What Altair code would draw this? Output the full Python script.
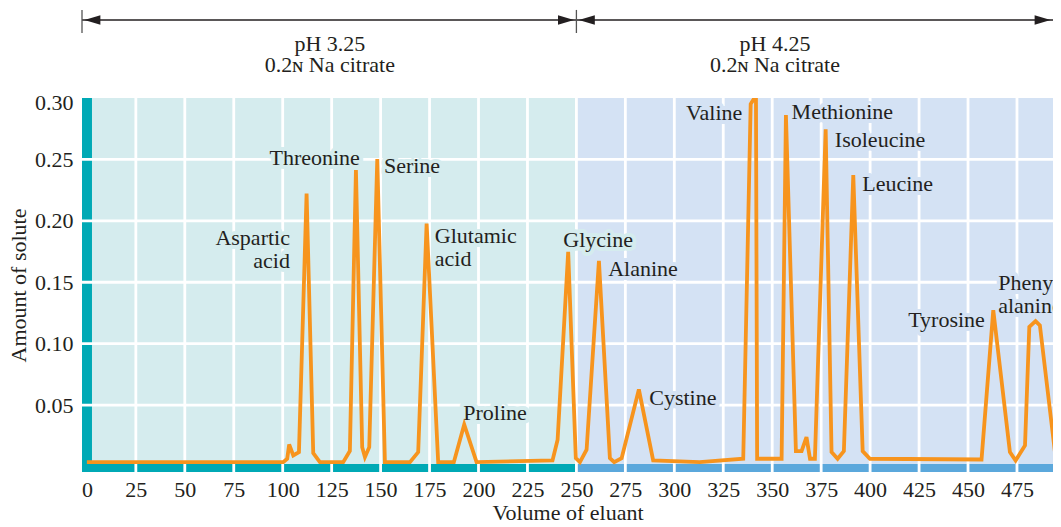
import altair as alt
import pandas as pd

# ---------------- data ----------------
volume = [0, 100.3, 102.3, 103.3, 105.4, 108.3, 112.2, 115.6, 119.0, 130.9,
          134.3, 137.4, 140.6, 142.0, 144.2, 148.3, 152.2, 165.0, 169.2, 173.5,
          179.4, 187.4, 192.7, 199.0, 237.8, 240.4, 245.8, 249.7, 251.8, 255.2,
          261.5, 267.1, 269.3, 273.1, 281.9, 289.2, 313.0, 335.2, 339.0, 341.7,
          342.3, 354.8, 357.0, 362.1, 365.0, 367.5, 369.3, 371.8, 377.3, 380.3,
          383.4, 386.6, 391.4, 396.2, 399.9, 456.9, 462.9, 471.4, 474.3, 479.1,
          481.3, 484.5, 486.7, 494.7, 497.5]
amount = [0.0035, 0.0035, 0.0063, 0.0179, 0.0090, 0.0117, 0.2223, 0.0108, 0.0035, 0.0035,
          0.0127, 0.2413, 0.0157, 0.0076, 0.0157, 0.2503, 0.0035, 0.0035, 0.0117, 0.1978,
          0.0035, 0.0035, 0.0342, 0.0035, 0.0049, 0.0218, 0.1747, 0.0068, 0.0035, 0.0136,
          0.1674, 0.0068, 0.0035, 0.0068, 0.0628, 0.0049, 0.0035, 0.0063, 0.2951, 0.3020,
          0.0063, 0.0063, 0.2861, 0.0125, 0.0125, 0.0239, 0.0063, 0.0063, 0.2745, 0.0117,
          0.0063, 0.0125, 0.2372, 0.0125, 0.0063, 0.0057, 0.1272, 0.0117, 0.0049, 0.0171,
          0.1136, 0.1184, 0.1149, 0.0076, 0.0063]

label_text = ["Aspartic\nacid", "Threonine", "Serine", "Glutamic\nacid", "Proline",
              "Glycine", "Alanine", "Cystine", "Valine", "Methionine", "Isoleucine",
              "Leucine", "Tyrosine", "Phenyl-\nalanine"]
label_x = [103.7, 139.4, 151.7, 177.7, 192.2, 243.3, 266.2, 287.2,
           334.7, 359.9, 382.0, 396.0, 458.6, 465.4]
label_y = [0.1859, 0.2511, 0.2445, 0.1875, 0.0432, 0.1842, 0.1606,
           0.0557, 0.2880, 0.2883, 0.2658, 0.2296, 0.1196, 0.1492]
label_side = ["right", "right", "left", "left", "left", "left", "left",
              "left", "right", "left", "left", "left", "right", "left"]

phase_names = ["pH 3.25", "pH 4.25"]
phase_buffers = ["0.2ɴ Na citrate", "0.2ɴ Na citrate"]
phase_start = [-2.5, 250.0]
phase_end = [250.0, 493.4]
phase_label_x = [124.1, 351.4]

x_ticks = list(range(0, 500, 25))
y_ticks = [0.05, 0.10, 0.15, 0.20, 0.25, 0.30]

# ---------------- styling ----------------
FONT = "Liberation Serif"
FS = 22
INK = "#231f20"
BG = ["#d5ecee", "#d4e2f4"]
BAR = ["#00a9b5", "#5ba8dc"]
ORANGE = "#f7941d"

X_MIN, X_MAX = -2.5, 493.4
Y_MIN, Y_MAX = -0.0045, 0.30
xs = alt.Scale(domain=[X_MIN, X_MAX], nice=False, zero=False)
ys = alt.Scale(domain=[Y_MIN, Y_MAX], nice=False, zero=False)

ax_x = alt.Axis(values=x_ticks, title="Volume of eluant", grid=False, domain=False,
                ticks=False, labelFont=FONT, labelFontSize=FS, labelColor=INK,
                labelPadding=7, labelFlush=False, labelOverlap=False,
                titleFont=FONT, titleFontSize=FS, titleFontWeight="normal",
                titleColor=INK, titlePadding=2)
ax_y = alt.Axis(values=y_ticks, format=".2f", title="Amount of solute", grid=False,
                domain=False, ticks=False, labelFont=FONT, labelFontSize=FS,
                labelColor=INK, labelPadding=9, labelFlush=False, labelOverlap=False,
                labelOffset={"condition": {"test": "datum.value >= 0.29", "value": 4},
                             "value": 0},
                titleFont=FONT, titleFontSize=FS, titleFontWeight="normal",
                titleColor=INK, titlePadding=4)

trace = pd.DataFrame({"volume": volume, "amount": amount})
labels = pd.DataFrame({"text": label_text, "x": label_x, "y": label_y, "side": label_side})
phases = pd.DataFrame({"phase": phase_names, "buffer": phase_buffers,
                       "start": phase_start, "end": phase_end, "lx": phase_label_x,
                       "bg": BG, "bar": BAR})
phases["ylo"] = Y_MIN
phases["yhi"] = Y_MAX
phases["bartop"] = 0.002
phases["lbend"] = 2.6
phases["arrow_y"] = 0.3635
phases["tick_lo"] = 0.3529
phases["tick_hi"] = 0.3717
phases["tfirst"] = 0.3440


def X(f):
    return alt.X(f, scale=xs, axis=ax_x)


def Y(f):
    return alt.Y(f, scale=ys, axis=ax_y)


# background panels
bg = alt.Chart(phases).mark_rect().encode(
    x=X("start:Q"), x2="end:Q", y=Y("ylo:Q"), y2="yhi:Q",
    color=alt.Color("bg:N", scale=None),
)
bottom_bar = alt.Chart(phases).mark_rect().encode(
    x=X("start:Q"), x2="end:Q", y=Y("ylo:Q"), y2="bartop:Q",
    color=alt.Color("bar:N", scale=None),
)
left_bar = alt.Chart(phases).transform_filter("datum.start < 0").mark_rect(color=BAR[0]).encode(
    x=X("start:Q"), x2="lbend:Q", y=Y("ylo:Q"), y2="yhi:Q",
)

vgrid = alt.Chart(pd.DataFrame({"g": x_ticks[1:]})).mark_rule(color="white", strokeWidth=2.8).encode(
    x=X("g:Q"))
hgrid = alt.Chart(pd.DataFrame({"g": y_ticks[:-1]})).mark_rule(color="white", strokeWidth=2.8).encode(
    y=Y("g:Q"))


def label_layer(side, halo):
    props = dict(font=FONT, fontSize=FS, align=side, baseline="middle", clip=True,
                 lineBreak="\n", lineHeight=23)
    base = alt.Chart(labels).transform_filter(f"datum.side == '{side}'").transform_calculate(
        halo=f"datum.x < 250 ? '{BG[0]}' : '{BG[1]}'")
    if halo:
        return base.mark_text(strokeWidth=8, strokeJoin="round", **props).encode(
            x=X("x:Q"), y=Y("y:Q"), text="text:N",
            fill=alt.Fill("halo:N", scale=None), stroke=alt.Stroke("halo:N", scale=None))
    return base.mark_text(color=INK, **props).encode(x=X("x:Q"), y=Y("y:Q"), text="text:N")


line = alt.Chart(trace).mark_line(color=ORANGE, strokeWidth=3.8, clip=True).encode(
    x=X("volume:Q"), y=Y("amount:Q"))

# phase arrows above the plot
arrow_line = alt.Chart(phases).mark_rule(color=INK, strokeWidth=1.6).encode(
    x=X("start:Q"), x2="end:Q", y=Y("arrow_y:Q"))
arrow_ticks = alt.Chart(phases).mark_rule(color="#555555", strokeWidth=1.3).encode(
    x=X("start:Q"), y=Y("tick_lo:Q"), y2="tick_hi:Q")
head_left = alt.Chart(phases).mark_point(
    shape="M0.3,0L2.3,-0.6L2.3,0.6Z", size=256, filled=True, opacity=1, color=INK).encode(
    x=X("start:Q"), y=Y("arrow_y:Q"))
head_right = alt.Chart(phases).mark_point(
    shape="M-0.3,0L-2.3,-0.6L-2.3,0.6Z", size=256, filled=True, opacity=1, color=INK).encode(
    x=X("end:Q"), y=Y("arrow_y:Q"))
phase_text = alt.Chart(phases).transform_calculate(
    full="datum.phase + '\\n' + datum.buffer").mark_text(
    font=FONT, fontSize=FS, color=INK, baseline="middle", lineBreak="\n", lineHeight=21).encode(
    x=X("lx:Q"), y=Y("tfirst:Q"), text="full:N")

chart = alt.layer(
    bg, bottom_bar, left_bar, vgrid, hgrid,
    label_layer("left", True), label_layer("right", True),
    line,
    label_layer("left", False), label_layer("right", False),
    arrow_line, arrow_ticks, head_left, head_right, phase_text,
).properties(
    width=971, height=374, autosize="none",
    padding={"left": 74, "top": 90, "right": 0, "bottom": 54},
).configure_view(stroke=None)

chart.save("out.html", embed_options={"renderer": "svg", "actions": False})
